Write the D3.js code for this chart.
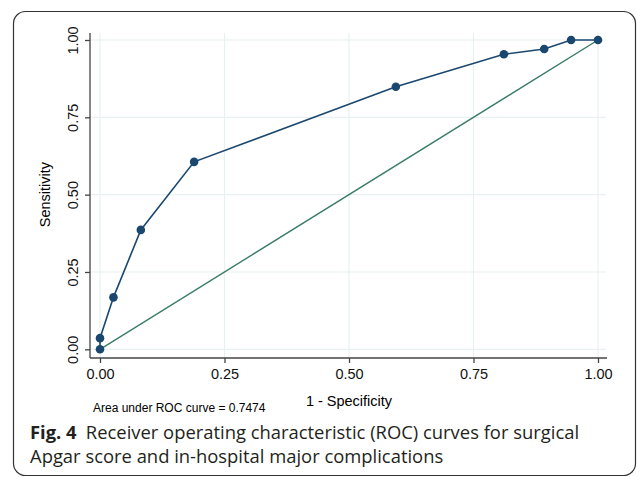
<!DOCTYPE html>
<html>
<head>
<meta charset="utf-8">
<script src="https://cdn.jsdelivr.net/npm/d3@7"></script>
<style>
  body { margin: 0; background: #fff; }
  svg { display: block; }
</style>
</head>
<body>
<div class="data_figure"></div>
<script>
// ROC points: 1 - specificity, sensitivity
const fpr = [0, 0, 0.027, 0.082, 0.189, 0.594, 0.811, 0.892, 0.946, 1];
const tpr = [0, 0.036, 0.168, 0.386, 0.606, 0.849, 0.954, 0.971, 1, 1];
const tickVals = [0, 0.25, 0.5, 0.75, 1];
const aucText = "Area under ROC curve = 0.7474";
const captionBold = "Fig. 4";
const captionLines = [
    "Receiver operating characteristic (ROC) curves for surgical",
    "Apgar score and in-hospital major complications"
];

const width = 637,
      height = 477;

const rocColor = "#1a476f",
      refColor = "#3a7d66",
      gridColor = "#e8f0f2";

const axisFont = "'Liberation Sans', Arial, sans-serif";

const plot = { left: 90, right: 606, top: 33, bottom: 358 };

const xScale = d3.scaleLinear().domain([0, 1]).range([100, 598]);
const yScale = d3.scaleLinear().domain([0, 1]).range([349.3, 40]);

const svg = d3.select(".data_figure")
    .append("svg")
    .attr("width", width)
    .attr("height", height);

// frame
svg.append("rect")
    .attr("x", 13.5).attr("y", 11.5)
    .attr("width", 622).attr("height", 464)
    .attr("rx", 12)
    .attr("fill", "none")
    .attr("stroke", "#333")
    .attr("stroke-width", 1.2);

// grid
svg.append("g").selectAll("line")
    .data(tickVals).enter().append("line")
    .attr("x1", plot.left).attr("x2", plot.right)
    .attr("y1", d => yScale(d)).attr("y2", d => yScale(d))
    .attr("stroke", gridColor).attr("stroke-width", 1.2);

svg.append("g").selectAll("line")
    .data(tickVals).enter().append("line")
    .attr("y1", plot.top).attr("y2", plot.bottom)
    .attr("x1", d => xScale(d)).attr("x2", d => xScale(d))
    .attr("stroke", gridColor).attr("stroke-width", 1.2);

// axes
const fmt = d3.format(".2f");

const xAxis = svg.append("g")
    .attr("transform", "translate(0," + plot.bottom + ")")
    .call(d3.axisBottom(xScale).tickValues(tickVals).tickFormat(fmt).tickSize(5).tickSizeOuter(0));
xAxis.select(".domain").attr("d", "M" + plot.left + ",0H" + (plot.right + 1));

const yAxis = svg.append("g")
    .attr("transform", "translate(" + plot.left + ",0)")
    .call(d3.axisLeft(yScale).tickValues(tickVals).tickFormat(fmt).tickSize(5).tickSizeOuter(0));
yAxis.select(".domain").attr("d", "M0," + plot.top + "V" + plot.bottom);

svg.selectAll(".domain, .tick line").attr("stroke", "#444").attr("stroke-width", 1.3);
svg.selectAll(".tick text")
    .style("font-family", axisFont)
    .style("font-size", "14.5px")
    .attr("fill", "#111");
xAxis.selectAll(".tick text").attr("y", 11);
yAxis.selectAll(".tick text")
    .attr("x", 0).attr("y", 0).attr("dy", 0)
    .attr("text-anchor", "middle")
    .attr("transform", "translate(-12,0) rotate(-90)");

// axis titles
svg.append("text")
    .text("Sensitivity")
    .attr("transform", "translate(50," + yScale(0.5) + ") rotate(-90)")
    .attr("text-anchor", "middle")
    .style("font-family", axisFont)
    .style("font-size", "14.5px");

svg.append("text")
    .text("1 - Specificity")
    .attr("x", 349).attr("y", 406)
    .attr("text-anchor", "middle")
    .style("font-family", axisFont)
    .style("font-size", "14.5px");

svg.append("text")
    .text(aucText)
    .attr("x", 93).attr("y", 412)
    .style("font-family", axisFont)
    .style("font-size", "12px");

// reference line
svg.append("line")
    .attr("x1", xScale(0)).attr("y1", yScale(0))
    .attr("x2", xScale(1)).attr("y2", yScale(1))
    .attr("stroke", refColor).attr("stroke-width", 1.4);

// ROC curve
const pts = fpr.map((d, i) => [d, tpr[i]]);
svg.append("path")
    .datum(pts)
    .attr("d", d3.line().x(d => xScale(d[0])).y(d => yScale(d[1])))
    .attr("fill", "none")
    .attr("stroke", rocColor)
    .attr("stroke-width", 1.6);

svg.selectAll(".dot")
    .data(pts).enter().append("circle")
    .attr("class", "dot")
    .attr("cx", d => xScale(d[0]))
    .attr("cy", d => yScale(d[1]))
    .attr("r", 4.3)
    .attr("fill", rocColor);

// caption
const cap = svg.append("g")
    .style("font-family", "'Open Sans', 'Noto Sans', sans-serif")
    .style("font-size", "18.4px")
    .attr("fill", "#231f20");

const line1 = cap.append("text").attr("x", 30).attr("y", 439);
line1.append("tspan").text(captionBold).style("font-weight", "bold");
line1.append("tspan").text("\u2002" + captionLines[0]);

cap.append("text").attr("x", 30).attr("y", 463).text(captionLines[1]);
</script>
</body>
</html>
